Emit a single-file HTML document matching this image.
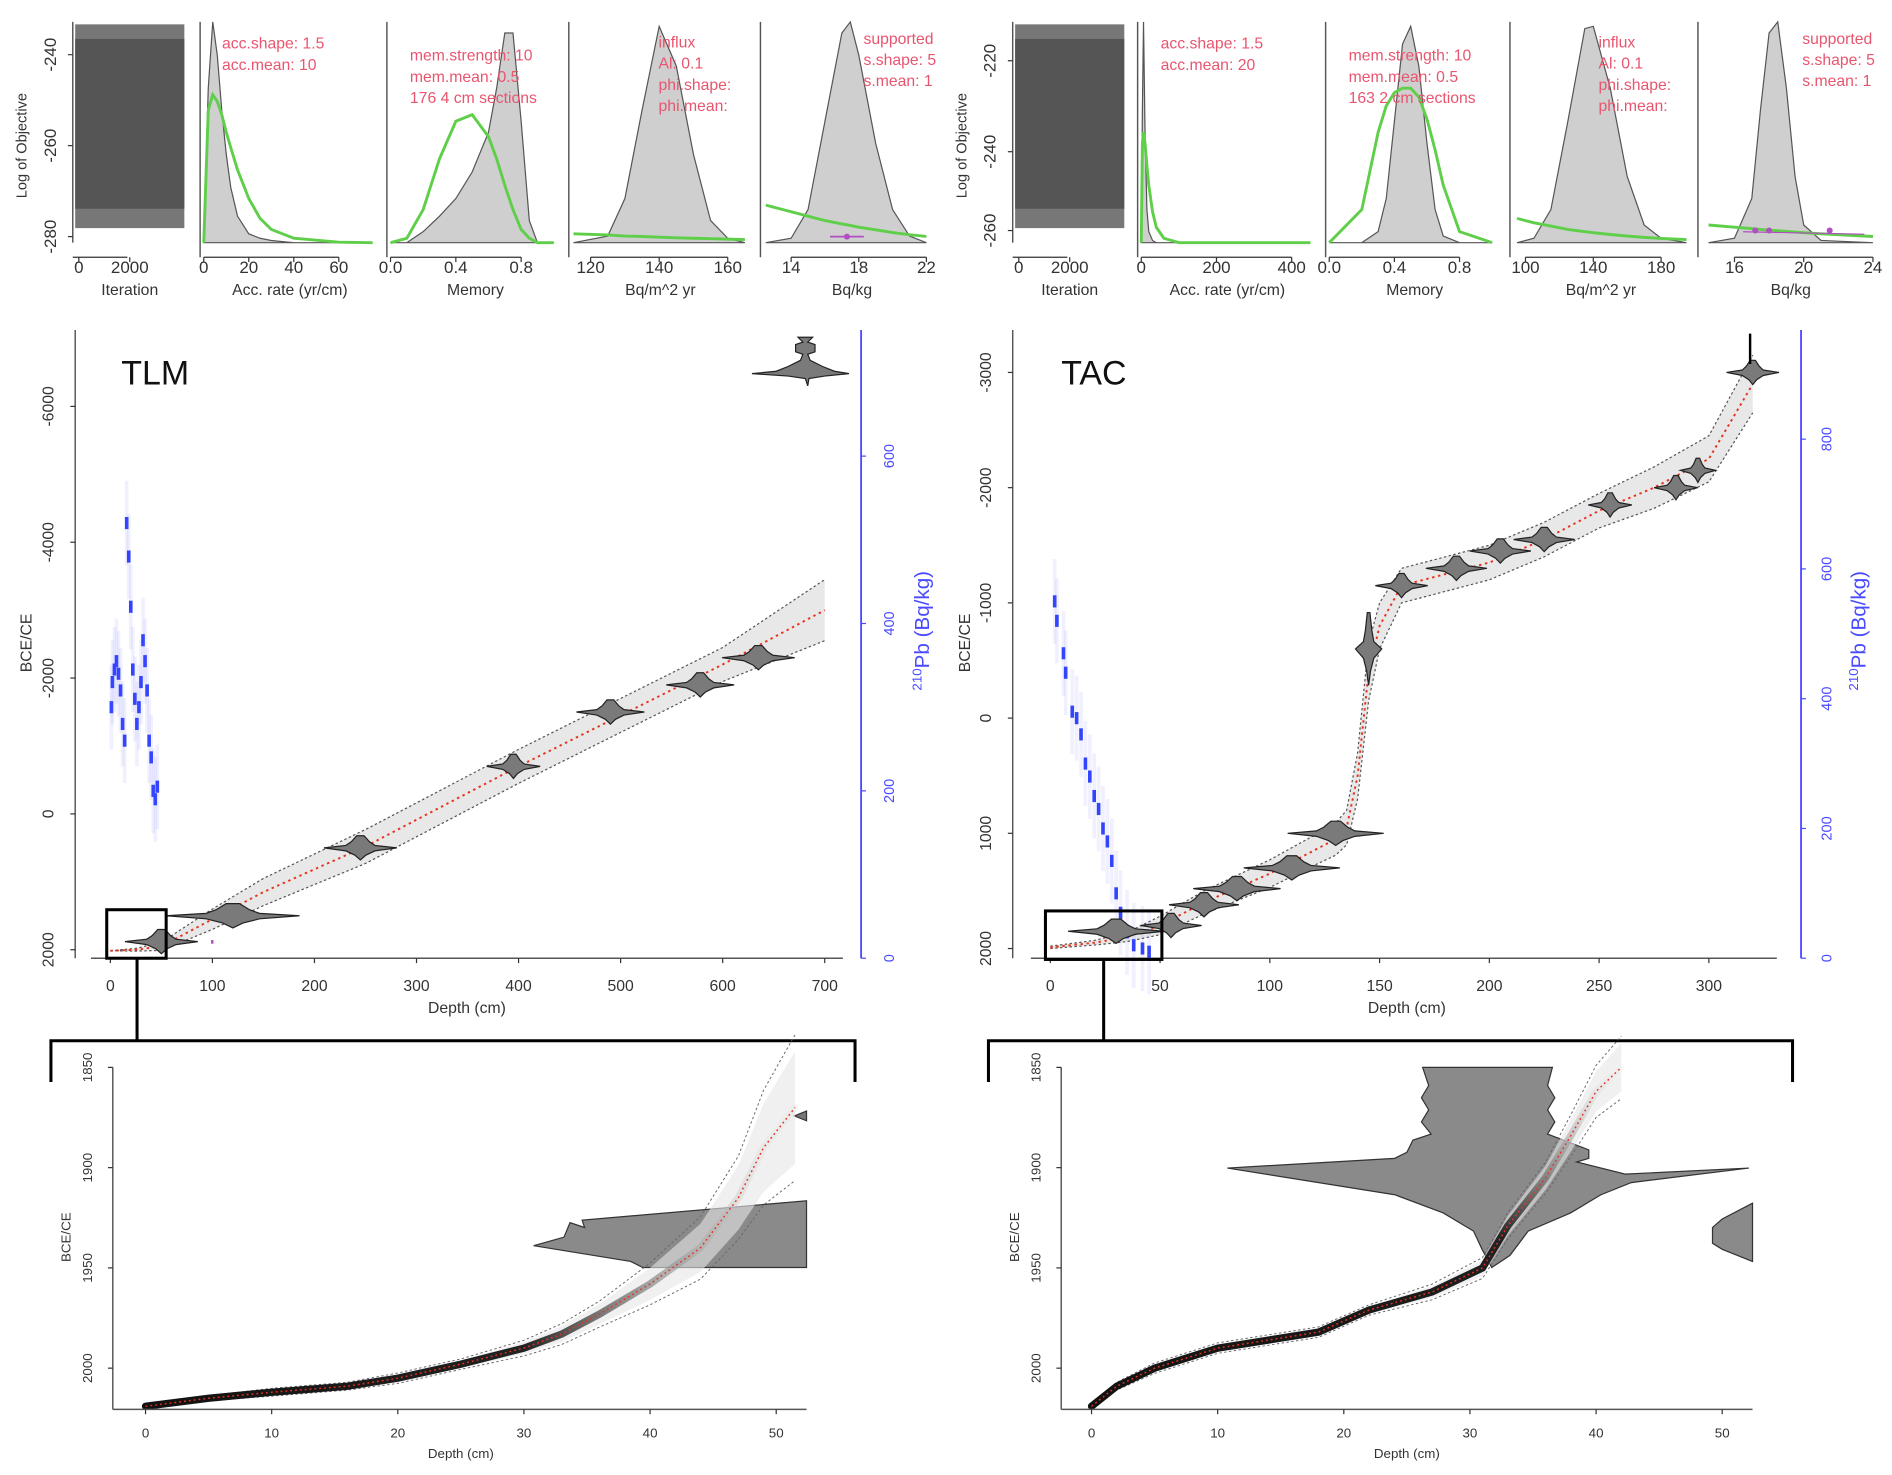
<!DOCTYPE html>
<html><head><meta charset="utf-8"><style>
html,body{margin:0;padding:0;background:#fff}
svg{display:block}
text{font-family:"Liberation Sans",sans-serif}
</style></head><body>
<svg id="fig" width="1892" height="1475" viewBox="0 0 1560 1216" xmlns="http://www.w3.org/2000/svg">
<defs>
<linearGradient id="fadeL" gradientUnits="userSpaceOnUse" x1="120" y1="0" x2="640" y2="0">
<stop offset="0" stop-color="#111"/><stop offset="0.6" stop-color="#222"/><stop offset="0.85" stop-color="#999" stop-opacity="0.6"/><stop offset="1" stop-color="#ddd" stop-opacity="0.2"/></linearGradient>
<linearGradient id="fadeR" gradientUnits="userSpaceOnUse" x1="0" y1="1160" x2="0" y2="880">
<stop offset="0" stop-color="#111"/><stop offset="0.5" stop-color="#222"/><stop offset="0.8" stop-color="#aaa" stop-opacity="0.6"/><stop offset="1" stop-color="#eee" stop-opacity="0.2"/></linearGradient>
<clipPath id="clipL"><rect x="0" y="0" width="775" height="260"/></clipPath>
<clipPath id="clipR"><rect x="0" y="0" width="1552" height="260"/></clipPath>
</defs>
<g id="root"></g>
</svg>
<script>
// ---------- data ----------
const L_accX=[0,2,4,6,8,10,12,15,20,25,30,40,60,75];
const L_accPost=[0,0.7,1,0.85,0.6,0.4,0.25,0.12,0.04,0.02,0.01,0,0,0];
const L_accPrior=[0,0.6,0.67,0.64,0.58,0.5,0.43,0.33,0.2,0.11,0.06,0.02,0.002,0];
const memX=[0,0.1,0.2,0.3,0.4,0.5,0.6,0.65,0.7,0.75,0.8,0.85,0.9,1];
const L_memPost=[0,0,0.05,0.12,0.2,0.32,0.5,0.7,0.95,0.95,0.55,0.1,0,0];
const memPrior=[0,0.02,0.15,0.38,0.55,0.58,0.48,0.38,0.26,0.15,0.06,0.02,0,0];
const L_infX=[115,125,130,135,140,145,150,155,160,165];
const L_infPost=[0,0.03,0.2,0.6,0.98,0.8,0.4,0.1,0.02,0];
const L_infPrior=[0.04,0.035,0.03,0.028,0.025,0.022,0.02,0.018,0.016,0.014];
const L_supX=[12.5,14,15,16,17,17.5,18,19,20,21,22];
const L_supPost=[0,0.02,0.15,0.55,0.95,1,0.85,0.45,0.15,0.03,0];
const L_supPrior=[0.17,0.14,0.12,0.1,0.085,0.078,0.07,0.058,0.046,0.036,0.028];
const R_accX=[0,3,6,10,15,20,30,40,60,100,450];
const R_accPost=[0,0.6,1,0.5,0.15,0.05,0.01,0,0,0,0];
const R_accPrior=[0,0.45,0.5,0.45,0.35,0.26,0.14,0.07,0.02,0,0];
const R_memX=[0,0.2,0.3,0.35,0.4,0.45,0.5,0.55,0.6,0.65,0.7,0.8,1];
const R_memPost=[0,0,0.05,0.2,0.55,0.9,0.98,0.8,0.45,0.15,0.03,0,0];
const R_memPrior=[0,0.15,0.5,0.62,0.68,0.7,0.7,0.66,0.56,0.42,0.26,0.05,0];
const R_infX=[95,105,115,125,135,140,150,160,170,180,195];
const R_infPost=[0,0.02,0.15,0.55,0.97,0.98,0.7,0.3,0.08,0.02,0];
const R_infPrior=[0.11,0.09,0.075,0.06,0.05,0.045,0.037,0.03,0.024,0.019,0.014];
const R_supX=[14.5,16,17,17.5,18,18.5,19,19.5,20,21,24];
const R_supPost=[0,0.02,0.2,0.6,0.95,1,0.7,0.3,0.08,0.01,0];
const R_supPrior=[0.08,0.07,0.064,0.06,0.057,0.054,0.051,0.048,0.045,0.04,0.028];

const L_depth=[0,25,50,100,150,250,400,500,600,650,700];
const L_mean=[2015,2000,1950,1550,1150,480,-700,-1450,-2200,-2600,-3000];
const L_spread=[0,20,60,150,200,250,250,250,250,350,450];
const L_dateD=[50,120,245,395,490,578,635];
const L_dateA=[1880,1500,500,-700,-1500,-1900,-2300];
const L_dateW=[30,55,30,22,28,28,30];
const L_pbD=[1,2,4,6,8,10,12,14,16,18,20,22,24,26,28,30,32,34,36,38,40,42,44,46];
const L_pbV=[300,330,345,355,340,320,280,260,520,480,420,345,310,280,300,330,380,355,320,260,240,200,190,205];

const R_depth=[0,20,35,50,70,100,120,130,135,140,145,150,160,180,200,225,250,275,300,320];
const R_mean=[1990,1950,1900,1800,1600,1350,1150,1050,950,500,-400,-800,-1150,-1250,-1350,-1550,-1800,-2000,-2250,-2900];
const R_spread=[10,20,40,80,100,120,130,140,150,200,250,200,150,150,150,150,150,180,200,250];
const R_dateD=[30,55,70,85,110,130,145,160,185,205,225,255,285,295,320];
const R_dateA=[1850,1800,1620,1480,1300,1000,-600,-1150,-1300,-1450,-1550,-1850,-2000,-2150,-3000];
const R_dateW=[22,14,16,20,22,22,6,12,14,14,14,10,10,8,12];
const R_pbD=[2,3,6,7,10,12,14,16,18,20,22,24,26,28,30,32,35,38,42,45];
const R_pbV=[550,520,470,440,380,370,345,300,280,250,230,200,180,150,100,70,40,20,15,10];

const BL_depth=[0,5,10,16,20,25,30,33,36,40,44,47,49,51.5];
const BL_age=[2019,2015,2012,2009,2005,1998,1990,1983,1973,1958,1940,1915,1890,1870];
const BL_sp=[0,1,1.5,1.5,2,2,3,4,5,8,12,16,22,28];
const BR_depth=[0,2,5,10,18,22,27,31,33,36,38,40,42];
const BR_age=[2019,2009,2000,1990,1982,1971,1962,1950,1929,1905,1884,1862,1850];
const BR_sp=[1,1.5,2,2,2,2,3,4,5,6,8,10,12];

// ---------- helpers ----------
const NS='http://www.w3.org/2000/svg';
const root=document.getElementById('root');
function el(tag,attrs,parent,txt){const e=document.createElementNS(NS,tag);for(const k in attrs)e.setAttribute(k,attrs[k]);if(txt!==undefined)e.textContent=txt;(parent||root).appendChild(e);return e;}
function lin(d0,d1,r0,r1){return v=>r0+(v-d0)*(r1-r0)/(d1-d0);}
function txt(x,y,s,size,fill,anchor,rot,parent,name){const a={x:x,y:y,'font-size':size,fill:fill||'#333','text-anchor':anchor||'middle'};if(rot)a.transform='rotate(-90 '+x+' '+y+')';const t=el('text',a,parent,s);return t;}
function line(x1,y1,x2,y2,st,w,parent,dash){const a={x1,y1,x2,y2,stroke:st||'#333','stroke-width':w||1};if(dash)a['stroke-dasharray']=dash;return el('line',a,parent);}

// ---------- top panels ----------
function density(g,x0,x1,d0,d1,ticks,xlabel,X,post,prior){
  const sx=lin(d0,d1,x0,x1), sy=v=>200-v*182;
  line(x0-3,18,x0-3,212,'#555',1.2,g);
  let p='M'+sx(X[0])+' 200 ';X.forEach((v,i)=>p+='L'+sx(v)+' '+sy(post[i])+' ');p+='L'+sx(X[X.length-1])+' 200Z';
  const pp=el('path',{d:p,fill:'#cfcfcf',stroke:'#555','stroke-width':1},g);
  
  let q='';X.forEach((v,i)=>q+=(i?'L':'M')+sx(v)+' '+sy(prior[i])+' ');
  const pr=el('path',{d:q,fill:'none',stroke:'#5fcf4a','stroke-width':2.4},g);
  
  line(sx(ticks[0]),212,sx(ticks[ticks.length-1]),212,'#333',1,g);
  ticks.forEach(t=>{line(sx(t),212,sx(t),216,'#333',1,g);txt(sx(t),225,String(t),14,'#333','middle',0,g,'x-tick');});
  txt((x0+x1)/2,243,xlabel,13,'#333','middle',0,g,'x-axis-title');
  return sx;
}
function trace(g,x0,x1,labels,ys){
  line(x0,18,x0,200,'#555',1.2,g);
  ys.forEach((y,i)=>{line(x0-4,y,x0,y,'#333',1,g);txt(x0-14,y,labels[i],14,'#333','middle',1,g,'y-tick');});
  el('rect',{x:x0+2,y:20,width:x1-x0-2,height:168,fill:'#777'},g);
  const r=el('rect',{x:x0+2,y:32,width:x1-x0-2,height:140,fill:'#555'},g);
  
  line(x0,212,x0+45,212,'#333',1,g);
  [[x0+5,'0'],[x0+47,'2000']].forEach(a=>{line(a[0],212,a[0],216,'#333',1,g);txt(a[0],225,a[1],14,'#333','middle',0,g,'x-tick');});
  txt(x0+47,243,'Iteration',13,'#333','middle',0,g,'x-axis-title');
  txt(x0-38,120,'Log of Objective',12,'#333','middle',1,g,'y-axis-title');
}
function pinkText(g,x,y,lines){lines.forEach((s,i)=>txt(x,y+i*17.5,s,13,'#e8556f','start',0,g,'setting-text'));}

const TL=el('g',{'clip-path':'url(#clipL)'});
trace(TL,60,152,['-240','-260','-280'],[45,120,195]);
density(TL,168,310,0,76.5,[0,20,40,60],'Acc. rate (yr/cm)',L_accX,L_accPost,L_accPrior);
density(TL,322,462,0,1.04,[0,0.4,0.8],'Memory',memX,L_memPost,memPrior);
density(TL,472,617,114.7,166,[120,140,160],'Bq/m^2 yr',L_infX,L_infPost,L_infPrior);
const s5=density(TL,630,775,12.4,22.8,[14,18,22],'Bq/kg',L_supX,L_supPost,L_supPrior);
line(s5(16.3),195,s5(18.3),195,'#b050c0',1.5,TL);el('circle',{cx:s5(17.3),cy:195,r:2.5,fill:'#b050c0'},TL);
pinkText(TL,183,40,['acc.shape:  1.5','acc.mean:  10']);
pinkText(TL,338,50,['mem.strength: 10','mem.mean: 0.5','176 4 cm sections']);
pinkText(TL,543,39,['influx','Al:  0.1','phi.shape:','phi.mean:']);
pinkText(TL,712,36,['supported','s.shape: 5','s.mean: 1']);
TL.querySelectorAll('text').forEach(t=>{if(t.textContent==='0'&&Math.abs(+t.getAttribute('x')-322)<2)t.textContent='0.0';});

const TR=el('g',{'clip-path':'url(#clipR)'});
trace(TR,835,927,['-220','-240','-260'],[50,125,190]);
density(TR,941,1083,0,458,[0,200,400],'Acc. rate (yr/cm)',R_accX,R_accPost,R_accPrior);
density(TR,1096,1237,0,1.05,[0,0.4,0.8],'Memory',R_memX,R_memPost,R_memPrior);
density(TR,1248,1392,93,196,[100,140,180],'Bq/m^2 yr',R_infX,R_infPost,R_infPrior);
const r5=density(TR,1403,1550,14.1,24.4,[16,20,24],'Bq/kg',R_supX,R_supPost,R_supPrior);
[17.2,18,21.5].forEach(v=>el('circle',{cx:r5(v),cy:190,r:2.5,fill:'#b050c0'},TR));
line(r5(16.5),191,r5(23.5),193,'#b050c0',1,TR);
pinkText(TR,957,40,['acc.shape:  1.5','acc.mean:  20']);
pinkText(TR,1112,50,['mem.strength: 10','mem.mean: 0.5','163 2 cm sections']);
pinkText(TR,1318,39,['influx','Al:  0.1','phi.shape:','phi.mean:']);
pinkText(TR,1486,36,['supported','s.shape: 5','s.mean: 1']);
TR.querySelectorAll('text').forEach(t=>{if(t.textContent==='0'&&Math.abs(+t.getAttribute('x')-1096)<2)t.textContent='0.0';});

// ---------- main panels ----------
function violin(g,cx,cy,w,h){
  const p=`M${cx-w} ${cy} L${cx-w*0.4} ${cy-h*0.2} L${cx-w*0.25} ${cy-h*0.5} L${cx-w*0.1} ${cy-h} L${cx+w*0.1} ${cy-h} L${cx+w*0.25} ${cy-h*0.5} L${cx+w*0.4} ${cy-h*0.2} L${cx+w} ${cy} L${cx+w*0.4} ${cy+h*0.25} L${cx+w*0.15} ${cy+h*0.6} L${cx} ${cy+h} L${cx-w*0.15} ${cy+h*0.6} L${cx-w*0.4} ${cy+h*0.25}Z`;
  const v=el('path',{d:p,fill:'#7a7a7a',stroke:'#222','stroke-width':1},g);
  
}
function model(g,sx,sy,D,M,S){
  let up='',lo='';D.forEach((d,i)=>{up+=(i?'L':'M')+sx(d)+' '+sy(M[i]-S[i])+' ';lo+=(i?'L':'M')+sx(d)+' '+sy(M[i]+S[i])+' ';});
  let band=up;for(let i=D.length-1;i>=0;i--)band+='L'+sx(D[i])+' '+sy(M[i]+S[i])+' ';band+='Z';
  const b=el('path',{d:band,fill:'#d8d8d8',opacity:0.6},g);
  el('path',{d:up,fill:'none',stroke:'#555','stroke-width':1,'stroke-dasharray':'2 2'},g);
  el('path',{d:lo,fill:'none',stroke:'#555','stroke-width':1,'stroke-dasharray':'2 2'},g);
  let m='';D.forEach((d,i)=>m+=(i?'L':'M')+sx(d)+' '+sy(M[i])+' ');
  const ml=el('path',{d:m,fill:'none',stroke:'#e8321e','stroke-width':1.6,'stroke-dasharray':'2 3'},g);
  
}
function pb(g,sx,sp,D,V){
  D.forEach((d,i)=>{const x=sx(d),y=sp(V[i]);
    el('rect',{x:x-1.5,y:y-35,width:3,height:70,fill:'#6a6aff',opacity:0.1},g);
    const r=el('rect',{x:x-1.5,y:y-5,width:3,height:10,fill:'#3344ff'},g);
    });
}

// Left main
const ML=el('g',{});
{
 const sx=lin(0,700,91,680), sy=lin(0,2000,671,783), sp=lin(0,200,790,652);
 line(62,272,62,790,'#555',1.2,ML);
 [2000,0,-2000,-4000,-6000].forEach(v=>{line(58,sy(v),62,sy(v),'#333',1,ML);txt(44,sy(v),String(v),13,'#333','middle',1,ML,'y-tick');});
 line(75,790,695,790,'#555',1.2,ML);
 [0,100,200,300,400,500,600,700].forEach(v=>{line(sx(v),790,sx(v),794,'#333',1,ML);txt(sx(v),817,String(v),13,'#333','middle',0,ML,'x-tick');});
 txt(385,835,'Depth (cm)',13,'#333','middle',0,ML,'x-axis-title');
 txt(26,530,'BCE/CE',13,'#333','middle',1,ML,'y-axis-title');
 line(710,272,710,790,'#4a4aff',1.5,ML);
 [0,200,400,600].forEach(v=>{line(710,sp(v),714,sp(v),'#4a4aff',1,ML);txt(737,sp(v),String(v),12,'#4a4aff','middle',1,ML,'right-y-tick');});
 const rt=el('text',{x:766,y:520,'font-size':17,fill:'#4a4aff','text-anchor':'middle',transform:'rotate(-90 766 520)'},ML);
 
 el('tspan',{'font-size':11,dy:-6},rt,'210');el('tspan',{dy:6},rt,'Pb (Bq/kg)');
 txt(100,317,'TLM',28,'#111','start',0,ML,'core-title');
 model(ML,sx,sy,L_depth,L_mean,L_spread);
 pb(ML,sx,sp,L_pbD,L_pbV);
 L_dateD.forEach((d,i)=>violin(ML,sx(d),sy(L_dateA[i]),L_dateW[i],10));
 // stacked oldest date
 const sd=el('path',{d:'M620 308 L640 306 L650 302 L660 297 L662 292 L656 290 L656 284 L662 282 L658 278 L670 278 L666 282 L672 284 L672 290 L666 292 L668 297 L678 302 L688 306 L700 308 L680 310 L667 312 L666 318 L664 312 L650 310 Z',fill:'#7a7a7a',stroke:'#222','stroke-width':1},ML);
 
 el('rect',{x:174,y:775,width:2,height:3,fill:'#b050c0'},ML);
 const zb=el('rect',{x:88,y:750,width:49,height:40,fill:'none',stroke:'#000','stroke-width':2.5},ML);
 
 el('path',{d:'M113 790 L113 858 M42 892 L42 858 L705 858 L705 892',fill:'none',stroke:'#000','stroke-width':2.5},ML);
}
// Right main
const MR=el('g',{});
{
 const sx=lin(0,300,866,1409), sy=lin(0,1000,592,687), sp=lin(0,200,790,683);
 line(835,272,835,790,'#555',1.2,MR);
 [2000,1000,0,-1000,-2000,-3000].forEach(v=>{line(831,sy(v),835,sy(v),'#333',1,MR);txt(817,sy(v),String(v),13,'#333','middle',1,MR,'y-tick');});
 line(850,790,1465,790,'#555',1.2,MR);
 [0,50,100,150,200,250,300].forEach(v=>{line(sx(v),790,sx(v),794,'#333',1,MR);txt(sx(v),817,String(v),13,'#333','middle',0,MR,'x-tick');});
 txt(1160,835,'Depth (cm)',13,'#333','middle',0,MR,'x-axis-title');
 txt(800,530,'BCE/CE',13,'#333','middle',1,MR,'y-axis-title');
 line(1485,272,1485,790,'#4a4aff',1.5,MR);
 [0,200,400,600,800].forEach(v=>{line(1485,sp(v),1489,sp(v),'#4a4aff',1,MR);txt(1510,sp(v),String(v),12,'#4a4aff','middle',1,MR,'right-y-tick');});
 const rt=el('text',{x:1538,y:520,'font-size':17,fill:'#4a4aff','text-anchor':'middle',transform:'rotate(-90 1538 520)'},MR);
 
 el('tspan',{'font-size':11,dy:-6},rt,'210');el('tspan',{dy:6},rt,'Pb (Bq/kg)');
 txt(875,317,'TAC',28,'#111','start',0,MR,'core-title');
 model(MR,sx,sy,R_depth,R_mean,R_spread);
 pb(MR,sx,sp,R_pbD,R_pbV);
 R_dateD.forEach((d,i)=>violin(MR,sx(d),sy(R_dateA[i]),R_dateW[i]*1.8,R_dateD[i]===145?30:10));
 line(1443,275,1443,300,'#000',2,MR);
 const zb=el('rect',{x:862,y:751,width:96,height:40,fill:'none',stroke:'#000','stroke-width':2.5},MR);
 
 el('path',{d:'M910 791 L910 858 M815 892 L815 858 L1478 858 L1478 892',fill:'none',stroke:'#000','stroke-width':2.5},MR);
}

// ---------- bottom zoom panels ----------
function zoomAxes(g,x0,sx,sy,xmax){
 line(x0,880,x0,1162,'#555',1.2,g);
 [1850,1900,1950,2000].forEach(v=>{line(x0-4,sy(v),x0,sy(v),'#333',1,g);txt(x0-17,sy(v),String(v),11,'#333','middle',1,g,'y-tick');});
 line(x0,1162,xmax,1162,'#555',1.2,g);
 [0,10,20,30,40,50].forEach(v=>{line(sx(v),1162,sx(v),1166,'#333',1,g);txt(sx(v),1185,String(v),11,'#333','middle',0,g,'x-tick');});
 txt(x0-35,1020,'BCE/CE',11,'#333','middle',1,g,'y-axis-title');
}
function zoomModel(g,sx,sy,D,A,S,grad){
 let band='';D.forEach((d,i)=>band+=(i?'L':'M')+sx(d)+' '+sy(A[i]-S[i])+' ');
 for(let i=D.length-1;i>=0;i--)band+='L'+sx(D[i])+' '+sy(A[i]+S[i])+' ';band+='Z';
 el('path',{d:band,fill:'#e6e6e6',opacity:0.6},g);
 let up='',lo='',m='';D.forEach((d,i)=>{up+=(i?'L':'M')+sx(d)+' '+sy(A[i]-S[i]*1.3)+' ';lo+=(i?'L':'M')+sx(d)+' '+sy(A[i]+S[i]*1.3)+' ';m+=(i?'L':'M')+sx(d)+' '+sy(A[i])+' ';});
 el('path',{d:up,fill:'none',stroke:'#666','stroke-width':0.8,'stroke-dasharray':'2 2'},g);
 el('path',{d:lo,fill:'none',stroke:'#666','stroke-width':0.8,'stroke-dasharray':'2 2'},g);
 const dk=el('path',{d:m,fill:'none',stroke:'url(#'+grad+')','stroke-width':6,'stroke-linecap':'round'},g);
 
 const ml=el('path',{d:m,fill:'none',stroke:'#e8321e','stroke-width':1.2,'stroke-dasharray':'1.5 2.5'},g);
 
}
const BL=el('g',{});
{
 const sx=lin(0,50,120,640), sy=lin(1850,2000,880,1128);
 const v=el('path',{d:'M440 1027 L465 1020 L470 1008 L482 1012 L480 1006 L665 990 L665 1045 L530 1045 L520 1040 Z',fill:'#8a8a8a',stroke:'#333','stroke-width':1},BL);
 
 el('path',{d:'M655 920 L665 916 L665 924 Z',fill:'#777',stroke:'#333'},BL);
 zoomModel(BL,sx,sy,BL_depth,BL_age,BL_sp,'fadeL');
 zoomAxes(BL,93,sx,sy,665);
 txt(380,1202,'Depth (cm)',11,'#333','middle',0,BL,'x-axis-title');
}
const BR=el('g',{});
{
 const sx=lin(0,50,900,1420), sy=lin(1850,2000,880,1128);
 const v=el('path',{d:'M1173 880 L1280 880 L1276 895 L1282 905 L1276 915 L1282 925 L1276 935 L1310 948 L1310 955 L1300 958 L1340 968 L1442 963 L1345 975 L1320 985 L1295 1000 L1260 1015 L1245 1035 L1230 1045 L1222 1030 L1215 1015 L1190 1000 L1150 985 L1012 963 L1150 955 L1160 950 L1165 940 L1180 935 L1172 925 L1178 915 L1172 905 L1178 895 Z',fill:'#8a8a8a',stroke:'#333','stroke-width':1},BR);
 
 el('path',{d:'M1445 992 L1420 1005 L1412 1012 L1412 1025 L1420 1030 L1445 1040 Z',fill:'#8a8a8a',stroke:'#333'},BR);
 zoomModel(BR,sx,sy,BR_depth,BR_age,BR_sp,'fadeR');
 zoomAxes(BR,875,sx,sy,1445);
 txt(1160,1202,'Depth (cm)',11,'#333','middle',0,BR,'x-axis-title');
}
</script>
</body></html>
